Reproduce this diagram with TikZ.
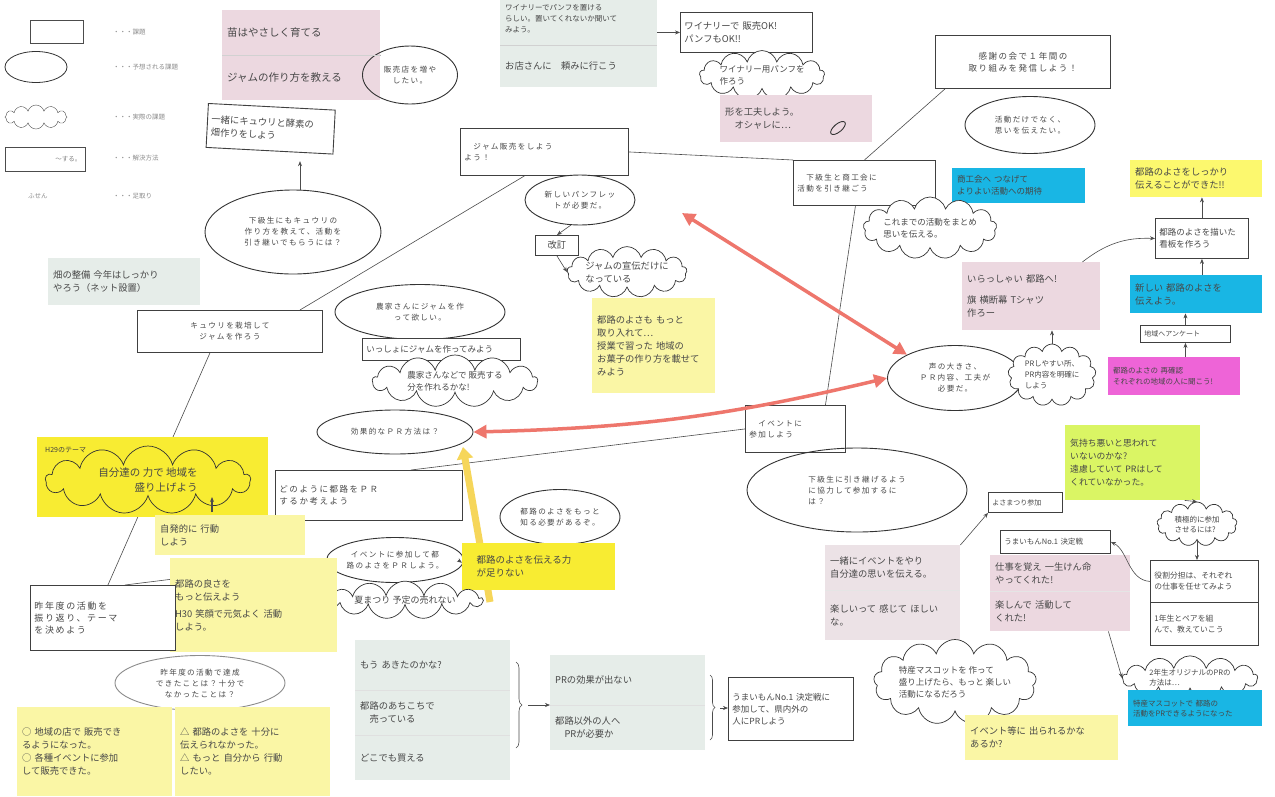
\documentclass[tikz,border=0pt]{standalone}
\usepackage{fontspec}
\newfontfamily\jp{Noto Sans CJK JP}
\newfontfamily\jpw[LetterSpace=18]{Noto Sans CJK JP}
\usetikzlibrary{shapes.geometric,shapes.symbols,arrows.meta,decorations.pathreplacing,backgrounds}
\definecolor{pinkS}{RGB}{236,216,224}
\definecolor{pinkG}{RGB}{236,226,230}
\definecolor{grayS}{RGB}{230,237,233}
\definecolor{yelL}{RGB}{250,246,165}
\definecolor{yelB}{RGB}{248,236,50}
\definecolor{yelS}{RGB}{252,248,110}
\definecolor{cyanS}{RGB}{25,182,228}
\definecolor{magS}{RGB}{238,100,215}
\definecolor{limeS}{RGB}{218,245,100}
\definecolor{redA}{RGB}{238,118,108}
\definecolor{yelA}{RGB}{246,214,90}
\tikzset{
 every node/.style={inner sep=0pt},
 typed/.style={font=\jpw\fontsize{7.6}{11}\selectfont, text=black!72},
 hand/.style={font=\jp\fontsize{9.3}{13}\selectfont, text=black!72},
 box/.style={draw=black!75, line width=0.9pt, inner xsep=4pt, inner ysep=3pt, anchor=north west, align=left},
 ell/.style={ellipse, draw=black!80, line width=0.9pt, inner sep=0pt, align=center, typed},
 cld/.style={cloud, cloud puffs=13, cloud ignores aspect, draw=black!80, line width=0.7pt, inner sep=0pt, align=left, hand},
 stk/.style={anchor=north west, inner xsep=5pt, inner ysep=3pt, align=left, hand},
 link/.style={draw=black!70, line width=0.6pt},
 arr/.style={link, -{Stealth[length=5pt,width=4pt]}},
 redarr/.style={draw=redA, line width=3.5pt, {Triangle[length=13pt,width=13pt]}-{Triangle[length=13pt,width=13pt]}},
 lgtxt/.style={anchor=west, font=\jp\fontsize{6.5}{8}\selectfont, text=black!45},
}
\begin{document}
\begin{tikzpicture}[x=1pt,y=-1pt]
\useasboundingbox (0,0) rectangle (1275,796);

% ---------- legend ----------
\node[draw=black!70, line width=0.8pt, minimum width=53pt, minimum height=23pt, anchor=north west] (lgA) at (30,20) {};
\node[lgtxt] (lgAt) at (113,32) {・・・課題};
\node[ellipse, draw=black!80, line width=0.8pt, minimum width=62pt, minimum height=31pt] (lgB) at (36,67) {};
\node[lgtxt] (lgBt) at (113,67) {・・・予想される課題};
\node[cloud, cloud puffs=12, cloud ignores aspect, draw=black!70, minimum width=62pt, minimum height=24pt] (lgC) at (36,117) {};
\node[lgtxt] (lgCt) at (113,117) {・・・実際の課題};
\node[draw=black!70, line width=0.8pt, minimum height=24pt, anchor=north west, align=right, text width=72pt, inner xsep=4pt, font=\jp\fontsize{6.5}{8}\selectfont, text=black!50] (lgD) at (5,147) {～する。};
\node[lgtxt] (lgDt) at (113,158) {・・・解決方法};
\node[lgtxt] (lgE) at (28,196) {ふせん};
\node[lgtxt] (lgEt) at (113,196) {・・・足取り};

% ---------- top left ----------
\node[stk, fill=pinkS, text width=148pt, minimum height=45pt, font=\jp\fontsize{10.5}{13}\selectfont] (p1a) at (222,10) {苗はやさしく育てる};
\node[stk, fill=pinkS, text width=148pt, minimum height=45pt, font=\jp\fontsize{10.5}{13}\selectfont] (p1b) at (222,55) {ジャムの作り方を教える};
\node[ell, minimum width=95pt, minimum height=58pt] (eHan) at (410,75) {販売店を増や\\したい。};
\node[box, hand, fill=white, text width=119pt, minimum height=44pt, rotate=-3] (bIssho) at (208,103) {一緒にキュウリと酵素の\\畑作りをしよう};
\node[ell, minimum width=176pt, minimum height=84pt] (eKyu) at (293,232) {下級生にもキュウリの\\作り方を教えて、活動を\\引き継いでもらうには？};
\node[stk, fill=grayS, text width=142pt, minimum height=47pt] (gS1) at (48,258) {畑の整備 今年はしっかり\\やろう（ネット設置）};
\node[box, typed, fill=white, text width=177pt, minimum height=42pt, align=center] (bKyu) at (137,310) {キュウリを栽培して\\ジャムを作ろう};

% ---------- top centre ----------
\node[box, typed, fill=white, text width=160pt, minimum height=47pt] (bJam) at (460,128) {　ジャム販売をしよう\\よう！};
\node[ell, fill=white, minimum width=110pt, minimum height=50pt] (eNew) at (580,200) {新しいパンフレッ\\トが必要だ。};
\node[box, hand, fill=white, text width=35pt, minimum height=20pt, align=center] (bKai) at (535,235) {改訂};
\node[cld, fill=white, minimum width=112pt, minimum height=46pt] (cJamAd) at (627,272) {ジャムの宣伝だけに\\なっている};
\node[stk, fill=yelL, text width=113pt, minimum height=95pt] (ySt1) at (592,298) {都路のよさも もっと\\取り入れて…\\授業で習った 地域の\\お菓子の作り方を載せて\\みよう};
\node[stk, fill=grayS, text width=147pt, minimum height=53pt, font=\jp\fontsize{7.5}{11}\selectfont] (gS2a) at (500,-8) {ワイナリーでパンフを置ける\\らしい。置いてくれないか聞いて\\みよう。};
\node[stk, fill=grayS, text width=147pt, minimum height=42pt] (gS2b) at (500,45) {お店さんに　頼みに行こう};
\node[box, hand, fill=white, text width=124pt, minimum height=40pt] (bWine) at (680,12) {ワイナリーで 販売OK!\\パンフもOK!!};
\node[cld, fill=white, minimum width=125pt, minimum height=42pt, font=\jp\fontsize{8.5}{12}\selectfont] (cWine) at (762,75) {ワイナリー用パンフを\\作ろう};
\node[stk, fill=pinkS, text width=142pt, minimum height=47pt] (pS2) at (720,95) {形を工夫しよう。\\　オシャレに…};
\draw[line width=0.9pt, black!80, rotate around={40:(838,128)}] (838,128) ellipse (9pt and 4pt);

% ---------- top right ----------
\node[box, typed, fill=white, text width=134pt, minimum height=45pt] (bShoko) at (793,160) {　下級生と商工会に\\活動を引き継ごう};
\node[box, typed, fill=white, text width=167pt, minimum height=53pt, align=center, font=\jpw\fontsize{8.5}{12}\selectfont] (bKansha) at (935,35) {感謝の会で１年間の\\取り組みを発信しよう！};
\node[ell, minimum width=130pt, minimum height=57pt] (eOmoi) at (1030,125) {活動だけでなく、\\思いを伝えたい。};
\node[stk, fill=cyanS, text width=123pt, minimum height=35pt, font=\jp\fontsize{8.5}{12}\selectfont] (cyS1) at (952,168) {商工会へ つなげて\\よりよい活動への期待};
\node[cld, fill=white, minimum width=122pt, minimum height=62pt, font=\jp\fontsize{8.5}{12}\selectfont] (cKore) at (930,228) {これまでの活動をまとめ\\思いを伝える。};
\node[stk, fill=yelS, text width=122pt, minimum height=37pt] (yS2) at (1130,160) {都路のよさをしっかり\\伝えることができた!!};
\node[box, hand, text width=85pt, minimum height=40pt, font=\jp\fontsize{8.5}{12}\selectfont] (bKanban) at (1155,218) {都路のよさを描いた\\看板を作ろう};
\node[stk, fill=pinkS, text width=128pt, minimum height=68pt] (pS3) at (962,262) {いらっしゃい 都路へ!\\[8pt]旗 横断幕 Tシャツ\\作ろー};
\node[stk, fill=cyanS, text width=122pt, minimum height=38pt] (cyS2) at (1130,275) {新しい 都路のよさを\\伝えよう。};
\node[box, hand, text width=82pt, minimum height=17pt, inner ysep=1pt, font=\jp\fontsize{7}{9}\selectfont] (bAnq) at (1140,325) {地域へアンケート};
\node[stk, fill=magS, text width=122pt, minimum height=38pt, font=\jp\fontsize{7.5}{11}\selectfont] (mgS) at (1108,357) {都路のよさの 再確認\\それぞれの地域の人に聞こう!};
\node[ell, fill=white, minimum width=135pt, minimum height=65pt] (eKoe) at (955,378) {声の大きさ、\\ＰＲ内容、工夫が\\必要だ。};
\node[cld, fill=white, minimum width=88pt, minimum height=62pt, font=\jp\fontsize{7.5}{11}\selectfont] (cPR) at (1052,375) {PRしやすい所、\\PR内容を明確に\\しよう};

% ---------- middle ----------
\node[ell, minimum width=170pt, minimum height=55pt] (eNouka) at (420,312) {農家さんにジャムを作\\って欲しい。};
\node[box, hand, fill=white, text width=150pt, minimum height=22pt, inner ysep=1pt, font=\jp\fontsize{8.5}{12}\selectfont] (bIssho2) at (362,338) {いっしょにジャムを作ってみよう};
\node[cld, fill=white, minimum width=165pt, minimum height=48pt, font=\jp\fontsize{8.5}{12}\selectfont] (cNouka) at (455,381) {農家さんなどで 販売する\\分を作れるかな!};
\node[ell, fill=white, minimum width=156pt, minimum height=44pt] (eKoka) at (395,432) {効果的なＰＲ方法は？};
\node[box, typed, fill=white, text width=179pt, minimum height=50pt, font=\jpw\fontsize{8.5}{12}\selectfont] (bDono) at (275,470) {どのように都路をＰＲ\\するか考えよう};
\node[box, typed, fill=white, text width=92pt, minimum height=47pt] (bEvent) at (745,405) {　イベントに\\参加しよう};
\node[ell, fill=white, minimum width=120pt, minimum height=55pt] (eShiru) at (560,517) {都路のよさをもっと\\知る必要があるぞ。};
\node[ell, fill=white, minimum width=135pt, minimum height=45pt] (eEvPR) at (395,560) {イベントに参加して都\\路のよさをＰＲしよう。};
\node[stk, fill=yelB, text width=143pt, minimum height=47pt, font=\jp\fontsize{9.5}{13}\selectfont] (yB1) at (462,543) {　都路のよさを伝える力\\　が足りない};
\node[cld, fill=white, minimum width=155pt, minimum height=36pt, font=\jp\fontsize{9}{12}\selectfont] (cNatsu) at (405,600) {夏まつり 予定の売れない};
\node[stk, fill=grayS, text width=145pt, minimum height=50pt] (gS3a) at (355,640) {もう あきたのかな?};
\node[stk, fill=grayS, text width=145pt, minimum height=45pt] (gS3b) at (355,690) {都路のあちこちで\\　売っている};
\node[stk, fill=grayS, text width=145pt, minimum height=45pt] (gS3c) at (355,735) {どこでも買える};
\node[stk, fill=grayS, text width=145pt, minimum height=50pt] (gS4a) at (550,655) {PRの効果が出ない};
\node[stk, fill=grayS, text width=145pt, minimum height=45pt] (gS4b) at (550,705) {都路以外の人へ\\　PRが必要か};
\node[box, hand, text width=117pt, minimum height=63pt, font=\jp\fontsize{8.5}{12}\selectfont] (bUmai2) at (728,677) {うまいもんNo.1 決定戦に\\参加して、県内外の\\人にPRしよう};
\coordinate (brA) at (528,705);
\coordinate (brB) at (720,708);

% ---------- lower right ----------
\node[ell, minimum width=220pt, minimum height=84pt, align=left] (eKakyu) at (857,490) {下級生に引き継げるよう\\に協力して参加するに\\は？};
\node[stk, fill=pinkG, text width=125pt, minimum height=45pt] (pgSa) at (825,545) {一緒にイベントをやり\\自分達の思いを伝える。};
\node[stk, fill=pinkG, text width=125pt, minimum height=50pt] (pgSb) at (825,590) {楽しいって 感じて ほしい\\な。};
\node[cld, fill=white, minimum width=142pt, minimum height=85pt, font=\jp\fontsize{8.5}{12}\selectfont] (cMascot) at (955,682) {特産マスコットを 作って\\盛り上げたら、もっと 楽しい\\活動になるだろう};
\node[stk, fill=yelL, text width=143pt, minimum height=45pt] (yS3) at (965,715) {イベント等に 出られるかな\\あるか?};
\node[box, hand, text width=66pt, minimum height=20pt, inner ysep=1pt, font=\jp\fontsize{7}{9}\selectfont] (bYosa) at (988,492) {よさまつり参加};
\node[stk, fill=limeS, text width=125pt, minimum height=75pt, font=\jp\fontsize{8.8}{13}\selectfont] (limeS) at (1065,425) {気持ち悪いと思われて\\いないのかな?\\遠慮していて PRはして\\くれていなかった。};
\node[box, hand, text width=102pt, minimum height=23pt, inner ysep=1pt, font=\jp\fontsize{7.5}{10}\selectfont] (bUmai) at (1000,530) {うまいもんNo.1 決定戦};
\node[stk, fill=pinkS, text width=130pt, minimum height=36pt] (pS4a) at (990,555) {仕事を覚え 一生けん命\\やってくれた!};
\node[stk, fill=pinkS, text width=130pt, minimum height=40pt] (pS4b) at (990,591) {楽しんで 活動して\\くれた!};
\node[cld, fill=white, minimum width=80pt, minimum height=44pt, font=\jp\fontsize{7.5}{10}\selectfont] (cSek) at (1197,524) {積極的に参加\\させるには?};
\node[box, hand, text width=100pt, minimum height=42pt, font=\jp\fontsize{7.8}{11}\selectfont] (bYaku) at (1150,560) {役割分担は、それぞれ\\の仕事を任せてみよう};
\node[box, hand, text width=100pt, minimum height=43pt, font=\jp\fontsize{7.8}{11}\selectfont] (bPair) at (1150,602) {1年生とペアを組\\んで、教えていこう};
\node[cld, fill=white, minimum width=135pt, minimum height=44pt, font=\jp\fontsize{7.5}{10}\selectfont] (c2nen) at (1190,678) {2年生オリジナルのPRの\\方法は…};
\node[stk, fill=cyanS, text width=124pt, minimum height=36pt, font=\jp\fontsize{7.5}{10}\selectfont] (cyS3) at (1128,690) {特産マスコットで 都路の\\活動をPRできるようになった};

% ---------- lower left ----------
\node[stk, fill=yelB, text width=221pt, minimum height=80pt] (yB2) at (37,437) {};
\node[anchor=west, font=\jp\fontsize{7}{9}\selectfont, text=black!75] (lblH) at (45,450) {H29のテーマ};
\node[cld, minimum width=205pt, minimum height=68pt, align=right, font=\jp\fontsize{10.5}{15}\selectfont] (cTheme) at (148,480) {自分達の 力で 地域を\\盛り上げよう};
\coordinate (upA) at (212,512);
\coordinate (upB) at (212,497);
\node[stk, fill=yelL, text width=140pt, minimum height=40pt] (yL1) at (155,515) {自発的に 行動\\しよう};
\node[stk, fill=yelL, text width=157pt, minimum height=94pt] (yL2) at (170,558) {都路の良さを\\もっと伝えよう\\[4pt]H30 笑顔で元気よく 活動\\しよう。};
\node[box, typed, fill=white, text width=137pt, minimum height=65pt, font=\jpw\fontsize{9}{12}\selectfont] (bSaku) at (30,585) {昨年度の活動を\\振り返り、テーマ\\を決めよう};
\node[ell, draw=black!45, minimum width=170pt, minimum height=55pt] (eSaku) at (200,683) {昨年度の活動で達成\\できたことは？十分で\\なかったことは？};
\node[stk, fill=yelL, text width=145pt, minimum height=89pt] (yL3) at (17,707) {○ 地域の店で 販売でき\\るようになった。\\○ 各種イベントに参加\\して販売できた。};
\node[stk, fill=yelL, text width=145pt, minimum height=89pt] (yL4) at (175,707) {△ 都路のよさを 十分に\\伝えられなかった。\\△ もっと 自分から 行動\\したい。};
\coordinate (r1a) at (682,213);
\coordinate (yTip) at (463,447);
\coordinate (yTail) at (490,602);

% ---------- background lines ----------
\begin{pgfonlayer}{background}
\fill[white] (0,0) rectangle (1275,796);
\draw[link] (p1b.north east) -- (eHan.west);
\draw[link] ([xshift=70]bKyu.north) -- ([xshift=-20]bJam.south);
\draw[link] ([xshift=-20]bKyu.south) -- ([xshift=5]bSaku.north);
\draw[link] ([xshift=22]bSaku.north) -- (eEvPR.west);
\draw[link] (bJam.east) -- (bShoko.north west);
\draw[link] (bShoko.north) -- ([xshift=10]bKansha.south west);
\draw[link] ([xshift=-9]bShoko.south) -- ([xshift=30]bEvent.north);
\draw[link] ([xshift=42]bDono.north) -- (bEvent.west);
\draw[draw=yelA, line width=7pt, -{Triangle[length=12pt,width=16pt]}] (yTail) -- (yTip);
\end{pgfonlayer}

% ---------- separators ----------
\draw[black!18] (p1b.north west) -- (p1b.north east);
\draw[black!18] (gS2b.north west) -- (gS2b.north east);
\draw[black!12] (gS3b.north west) -- (gS3b.north east);
\draw[black!12] (gS3c.north west) -- (gS3c.north east);
\draw[black!12] (gS4b.north west) -- (gS4b.north east);
\draw[black!10] (pgSb.north west) -- (pgSb.north east);
\draw[black!10] (pS4b.north west) -- (pS4b.north east);

% ---------- arrows ----------
\draw[arr, shorten >=10pt] ([xshift=7]eKyu.north) -- ([xshift=7]eKyu.north |- bIssho.south);
\draw[arr] (eNew.250) -- (bKai.north);
\draw[arr] (bKai.south) -- (cJamAd.west);
\draw[arr] (gS2a.east |- bWine.west) -- (bWine.west);
\draw[arr] ([xshift=-18]pS3.north east) to[bend left=20] (bKanban.west);
\draw[arr] (bKanban.north) -- (bKanban.north |- yS2.south);
\draw[arr] (bKanban.south |- cyS2.north) -- (bKanban.south);
\draw[arr] (bAnq.north) -- (bAnq.north |- cyS2.south);
\draw[arr] (bAnq.south |- mgS.north) -- (bAnq.south);
\draw[arr] (cPR.north) -- (cPR.north |- pS3.south);
\draw[arr] ([xshift=-6]eEvPR.east) -- ([yshift=4]yB1.west);
\draw[link, decorate, decoration={brace, amplitude=6pt}] (516,662) -- (516,748);
\draw[arr] (brA) -- (gS4a.south west |- brA);
\draw[link, decorate, decoration={brace, amplitude=5pt}] (710,675) -- (710,740);
\draw[arr] (brB) -- (bUmai2.west |- brB);
\draw[arr] (pgSa.north east) -- (bYosa.south west);
\draw[arr] ([xshift=52]limeS.south) -- (cSek.north);
\draw[arr] (cSek.south) -- (cSek.south |- bYaku.north);
\draw[arr] (bYaku.west) .. controls (1128,580) and (1128,550) .. (bUmai.east);
\draw[arr] ([xshift=-22]pS4b.south east) -- (c2nen.west);
\draw[arr, line width=1.4pt] (upA) -- (upB);

% ---------- coloured arrows ----------
\draw[redarr] (r1a) -- (eKoe.north west);
\draw[redarr] (eKoka.east) to[bend right=6] (eKoe.west);
\end{tikzpicture}
\end{document}
